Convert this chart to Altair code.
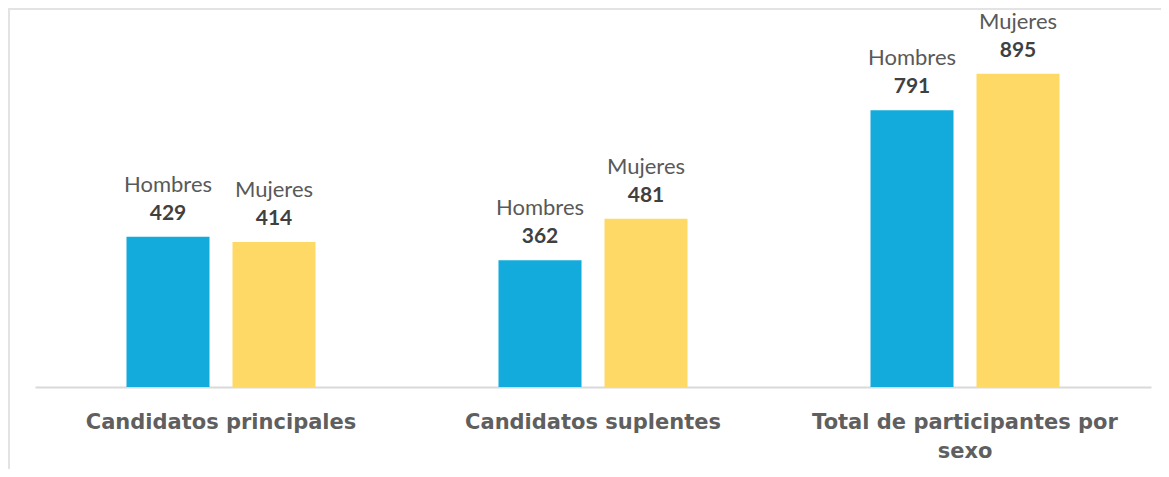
import altair as alt
import pandas as pd

# ---- data ----
categorias = ["Candidatos principales", "Candidatos suplentes", "Total de participantes por sexo"]
etiquetas = [["Candidatos principales"], ["Candidatos suplentes"], ["Total de participantes por", "sexo"]]
sexos = ["Hombres", "Mujeres"]
hombres = [429, 362, 791]
mujeres = [414, 481, 895]
colores = ["#12ABDB", "#FFD966"]

rows = []
for c, h, m in zip(categorias, hombres, mujeres):
    rows.append({"categoria": c, "sexo": "Hombres", "valor": h})
    rows.append({"categoria": c, "sexo": "Mujeres", "valor": m})
df = pd.DataFrame(rows)

W, H = 1153, 461

# label expression (multi-line for the third category)
parts = []
for c, lab in zip(categorias, etiquetas):
    arr = "[" + ", ".join("'" + s + "'" for s in lab) + "]"
    parts.append(f"datum.value == '{c}' ? {arr} : ")
label_expr = "".join(parts) + "datum.value"

x_enc = alt.X(
    "categoria:N",
    sort=categorias,
    scale=alt.Scale(domain=categorias, range=[27, 1143], paddingInner=0, paddingOuter=0),
    axis=alt.Axis(
        title=None, orient="bottom", offset=-82,
        domainColor="#D9D9D9", domainWidth=2, ticks=False, grid=False,
        labelAngle=0, labelFont="DejaVu Sans", labelFontSize=21, labelFontWeight="bold",
        labelColor="#5F5F5F", labelPadding=24, labelLimit=0, labelLineHeight=29,
        labelExpr=label_expr,
    ),
)
xoff_enc = alt.XOffset("sexo:N", sort=sexos,
                       scale=alt.Scale(domain=sexos, paddingInner=0.217, paddingOuter=0.863))
y_enc = alt.Y("valor:Q", scale=alt.Scale(domain=[0, 1000], range=[379, 29]), axis=None)

base = alt.Chart(df).encode(x=x_enc, xOffset=xoff_enc, y=y_enc)

bars = base.mark_bar().encode(
    color=alt.Color("sexo:N", scale=alt.Scale(domain=sexos, range=colores), legend=None)
)

names = base.mark_text(font="Lato", fontSize=22, color="#595959",
                       baseline="alphabetic", dy=-45).encode(text="sexo:N")
values = base.mark_text(font="Lato", fontSize=21, fontWeight="bold", color="#404040",
                        baseline="alphabetic", dy=-17).encode(text="valor:Q")

frame_df = pd.DataFrame({"k": [0]})
top_border = alt.Chart(frame_df).mark_rule(color="#E3E3E3", strokeWidth=2).encode(
    x=alt.value(0), x2=alt.value(W), y=alt.value(1))
left_border = alt.Chart(frame_df).mark_rule(color="#E3E3E3", strokeWidth=2).encode(
    x=alt.value(1), y=alt.value(0), y2=alt.value(H))

chart = alt.layer(top_border, left_border, bars, names, values).properties(
    width=W, height=H, padding=0, autosize=alt.AutoSizeParams(type="none"),
    background="white",
).configure_view(strokeWidth=0)

chart.save("out.html", embed_options={"renderer": "svg", "actions": False})
